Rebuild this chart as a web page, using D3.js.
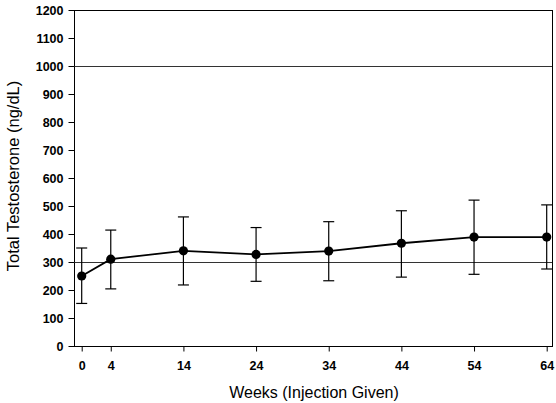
<!DOCTYPE html>
<html>
<head>
<meta charset="utf-8">
<script src="https://cdn.jsdelivr.net/npm/d3@7"></script>
<style>
  html, body { margin: 0; padding: 0; background: #fff; }
  svg { display: block; }
</style>
</head>
<body>
<svg id="chart" width="556" height="403"></svg>
<script>
// Total testosterone (ng/dL) by week of injection: mean with error range
const weeks = [0, 4, 14, 24, 34, 44, 54, 64];
const meanT = [250, 310, 340, 327, 339, 367, 389, 389];
const upperT = [350, 414, 461, 423, 444, 483, 521, 504];
const lowerT = [152, 204, 218, 231, 233, 246, 256, 275];
const yTicks = [0, 100, 200, 300, 400, 500, 600, 700, 800, 900, 1000, 1100, 1200];
const refLines = [300, 1000];

const svg = d3.select("#chart");
const frame = { left: 74, right: 552, top: 10, bottom: 346 };
const font = "Liberation Sans, Arial, sans-serif";

const x = d3.scaleLinear().domain([-1.06, 64.73]).range([frame.left, frame.right]);
const y = d3.scaleLinear().domain([0, 1200]).range([frame.bottom, frame.top]);

// Box around the plot area
svg.append("rect")
  .attr("x", frame.left + 0.5).attr("y", frame.top + 0.5)
  .attr("width", frame.right - frame.left).attr("height", frame.bottom - frame.top)
  .attr("fill", "none").attr("stroke", "#000").attr("stroke-width", 1);

// Reference lines
svg.selectAll("line.ref").data(refLines).enter().append("line")
  .attr("class", "ref")
  .attr("x1", frame.left).attr("x2", frame.right)
  .attr("y1", d => Math.round(y(d)) + 0.5).attr("y2", d => Math.round(y(d)) + 0.5)
  .attr("stroke", "#333").attr("stroke-width", 1);

// Y axis
const yAxis = d3.axisLeft(y).tickValues(yTicks).tickFormat(d3.format("d"))
  .tickSize(6).tickPadding(5).tickSizeOuter(0);
const gy = svg.append("g").attr("transform", `translate(${frame.left + 0.5},0)`).call(yAxis);
gy.select(".domain").remove();
gy.selectAll("text")
  .attr("font-family", font).attr("font-size", 12.5).attr("font-weight", "bold").attr("fill", "#000");

// X axis
const xAxis = d3.axisBottom(x).tickValues(weeks).tickFormat(d3.format("d"))
  .tickSize(5).tickPadding(10).tickSizeOuter(0);
const gx = svg.append("g").attr("transform", `translate(0,${frame.bottom + 0.5})`).call(xAxis);
gx.select(".domain").remove();
gx.selectAll("text")
  .attr("font-family", font).attr("font-size", 12.5).attr("font-weight", "bold").attr("fill", "#000");

const pts = weeks.map((w, i) => ({ w, m: meanT[i], hi: upperT[i], lo: lowerT[i] }));

// Error bars
const eb = svg.append("g").attr("stroke", "#000").attr("stroke-width", 1.2);
eb.selectAll("line.v").data(pts).enter().append("line")
  .attr("x1", d => x(d.w)).attr("x2", d => x(d.w))
  .attr("y1", d => y(d.hi)).attr("y2", d => y(d.lo));
eb.selectAll("line.t").data(pts).enter().append("line")
  .attr("x1", d => x(d.w) - 5.5).attr("x2", d => x(d.w) + 5.5)
  .attr("y1", d => y(d.hi)).attr("y2", d => y(d.hi));
eb.selectAll("line.b").data(pts).enter().append("line")
  .attr("x1", d => x(d.w) - 5.5).attr("x2", d => x(d.w) + 5.5)
  .attr("y1", d => y(d.lo)).attr("y2", d => y(d.lo));

// Mean line
svg.append("path").datum(pts)
  .attr("fill", "none").attr("stroke", "#000").attr("stroke-width", 1.8)
  .attr("d", d3.line().x(d => x(d.w)).y(d => y(d.m)));

// Markers
svg.selectAll("circle.pt").data(pts).enter().append("circle")
  .attr("cx", d => x(d.w)).attr("cy", d => y(d.m)).attr("r", 4.6)
  .attr("fill", "#000");

// Axis titles
svg.append("text")
  .attr("x", 314).attr("y", 398)
  .attr("text-anchor", "middle")
  .attr("font-family", font).attr("font-size", 16)
  .text("Weeks (Injection Given)");

svg.append("text")
  .attr("transform", "translate(19,176) rotate(-90)")
  .attr("text-anchor", "middle")
  .attr("font-family", font).attr("font-size", 16.5)
  .text("Total Testosterone (ng/dL)");
</script>
</body>
</html>
